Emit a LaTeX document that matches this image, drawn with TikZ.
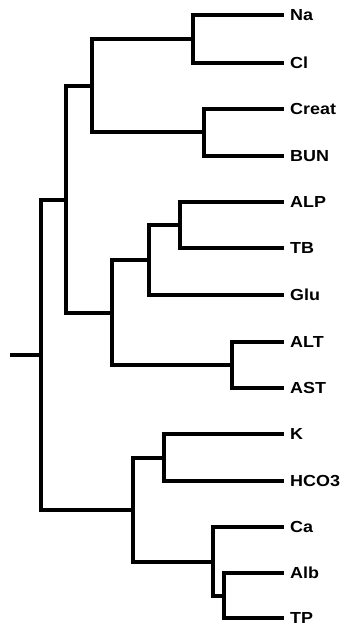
\documentclass[tikz,border=0pt]{standalone}
\usepackage{fontspec}
\setmainfont{Liberation Sans}
\begin{document}
\begin{tikzpicture}[x=1pt,y=-1pt,
  branch/.style={line width=4.2pt, line join=miter, line cap=rect},
  leaflabel/.style={anchor=west, inner sep=0pt, text height=11.4pt, text depth=0pt,
    font=\fontsize{16}{18}\selectfont\bfseries}]
\useasboundingbox (0,0) rectangle (342,627);

% leaves: tip of branch and label
\foreach \name/\txt/\yy in {Na/Na/15, Cl/Cl/63, Creat/Creat/109, BUN/BUN/156,
    ALP/ALP/202, TB/TB/248, Glu/Glu/295, ALT/ALT/342, AST/AST/388,
    K/K/434, HCO/HCO3/481, Ca/Ca/527, Alb/Alb/573, TP/TP/618}{
  \coordinate (t\name) at (282,\yy);
  \node[leaflabel] (l\name) at (290,\yy) {\scalebox{1.12}[1]{\txt}};
}

% internal nodes of the tree
\coordinate (nNaCl)   at (193,39);
\coordinate (nCrBUN)  at (204,132);
\coordinate (nA)      at (92,86);
\coordinate (nALPTB)  at (180,225);
\coordinate (nGlu)    at (149,260);
\coordinate (nALTAST) at (232,365);
\coordinate (nB)      at (112,313);
\coordinate (nC)      at (66,200);
\coordinate (nK)      at (164,458);
\coordinate (nAlbTP)  at (224,596);
\coordinate (nCa)     at (213,562);
\coordinate (nD)      at (133,510);
\coordinate (root)    at (41,355);
\coordinate (stub)    at (12,355);

% clades
\draw[branch] (tNa) -| (nNaCl) |- (tCl);
\draw[branch] (tCreat) -| (nCrBUN) |- (tBUN);
\draw[branch] (nNaCl) -| (nA) |- (nCrBUN);
\draw[branch] (tALP) -| (nALPTB) |- (tTB);
\draw[branch] (nALPTB) -| (nGlu) |- (tGlu);
\draw[branch] (tALT) -| (nALTAST) |- (tAST);
\draw[branch] (nGlu) -| (nB) |- (nALTAST);
\draw[branch] (nA) -| (nC) |- (nB);
\draw[branch] (tK) -| (nK) |- (tHCO);
\draw[branch] (tAlb) -| (nAlbTP) |- (tTP);
\draw[branch] (tCa) -| (nCa) |- (nAlbTP);
\draw[branch] (nK) -| (nD) |- (nCa);
\draw[branch] (nC) -| (root) |- (nD);
\draw[branch] (stub) -- (root);
\end{tikzpicture}
\end{document}
